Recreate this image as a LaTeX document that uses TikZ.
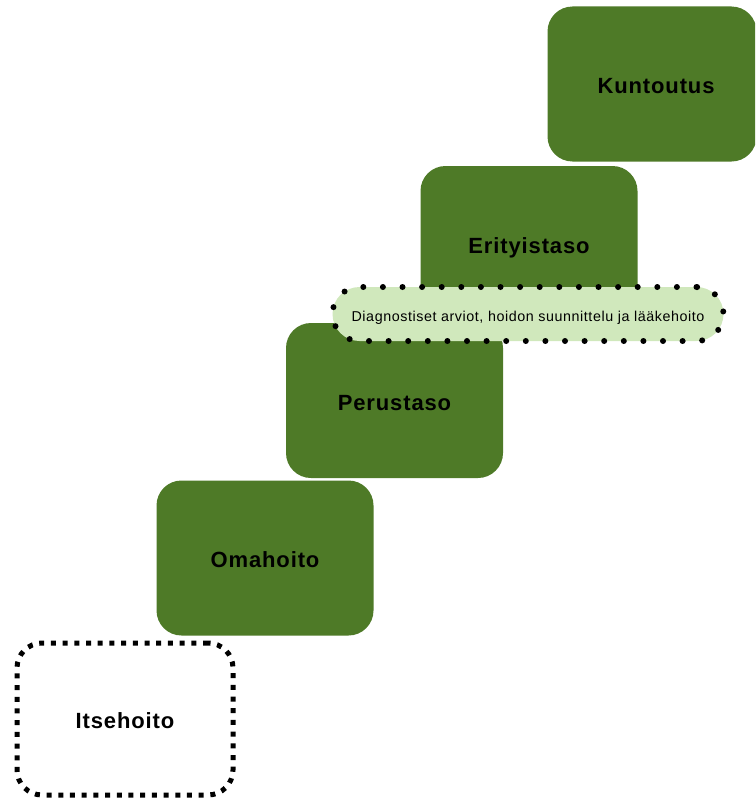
\documentclass[tikz,border=0pt]{standalone}
\usepackage{fontspec}
\setmainfont{Liberation Sans}
\newfontfamily\spacedfont[LetterSpace=4]{Liberation Sans}
\definecolor{dg}{HTML}{4E7A27}
\definecolor{lg}{HTML}{D0E8BC}
\begin{document}
\begin{tikzpicture}[x=1pt,y=-1pt,
  lbl/.style={font=\spacedfont\bfseries\fontsize{22}{26}\selectfont, text=black,
    text height=20pt, text depth=0.2pt},
  level/.style={lbl, fill=dg, draw=none, rounded corners=25pt, minimum width=217pt,
    minimum height=155pt, inner sep=0pt},
  selfbox/.style={lbl, draw=black, fill=white, rounded corners=25pt, minimum width=216pt,
    minimum height=152pt, inner sep=0pt, line width=5pt, dash pattern=on 5pt off 6.7pt},
  pill/.style={draw=black, fill=lg, rounded corners=27pt, minimum width=391pt,
    minimum height=54pt, inner sep=0pt, line width=6pt, line cap=round,
    dash pattern=on 0pt off 19.6pt, font=\spacedfont\fontsize{14.3}{17}\selectfont, text=black,
    text height=14pt, text depth=0pt}]
\useasboundingbox (0,0) rectangle (755,800);
\clip (0,0) rectangle (755,800);
\node[level, minimum width=209pt] (kun) at (652,84) {\hspace*{8pt}Kuntoutus};
\node[level] (eri) at (529,243.5) {Erityistaso};
\node[level] (per) at (394.5,400.5) {Perustaso};
\node[level] (oma) at (265,558) {Omahoito};
\node[selfbox] (its) at (125,719) {Itsehoito};
\node[pill] (diag) at (528,314) {Diagnostiset arviot, hoidon suunnittelu ja lääkehoito};
\end{tikzpicture}
\end{document}
